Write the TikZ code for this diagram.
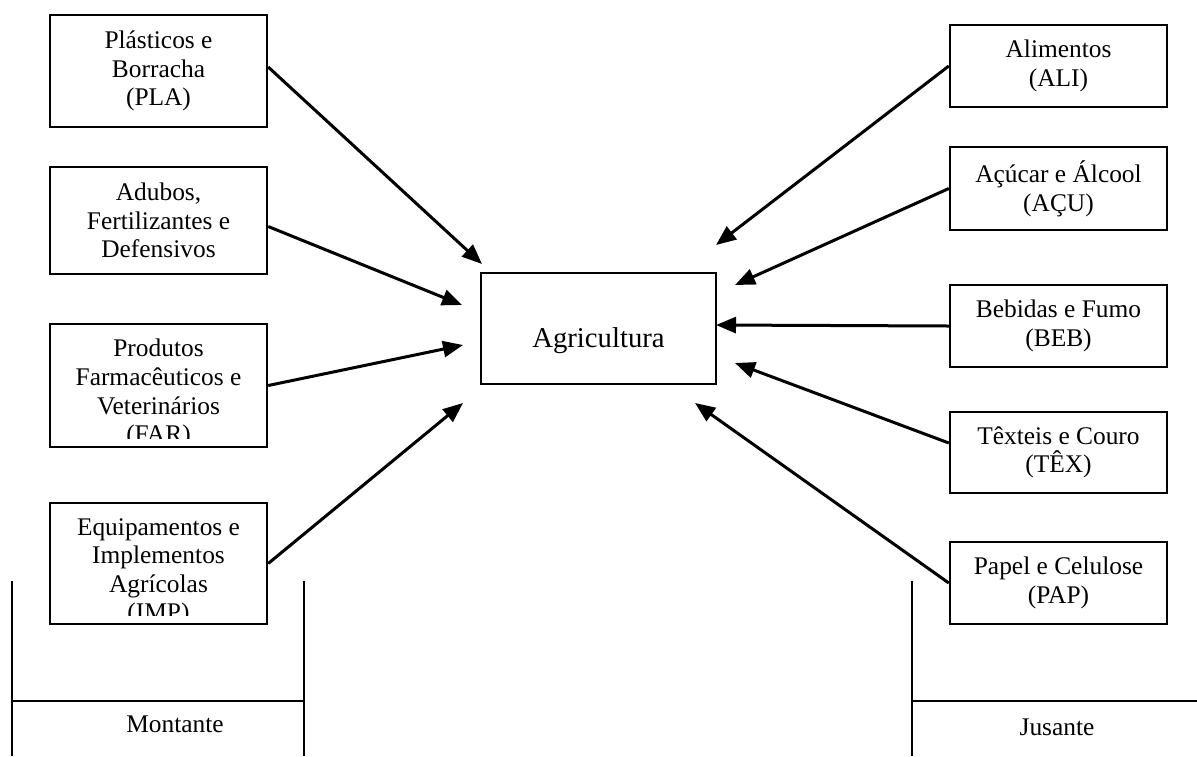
\documentclass[tikz,border=0pt]{standalone}
\usepackage{fontspec}
\setmainfont{Liberation Serif}
\usetikzlibrary{arrows.meta,positioning}

\begin{document}
\begin{tikzpicture}[
    x=0.5pt, y=-0.5pt,
    setor/.style={draw, line width=1.2pt, minimum width=108.5pt, align=center, inner sep=0pt, font=\fontsize{12.7}{14.3}\selectfont},
    texto/.style={align=center, inner sep=0pt, font=\fontsize{12.7}{14.3}\selectfont},
    arr/.style={-{Triangle[length=10pt,width=8pt]}, line width=1.5pt},
    limite/.style={line width=1pt}
]
\useasboundingbox (0,0) rectangle (1197,756);

\node[setor, minimum width=117.5pt, minimum height=55.5pt, font=\fontsize{14.35}{16}\selectfont, text height=18.5pt, text depth=0pt] (agri) at (598.5,328.5) {Agricultura};

% montante
\node[setor, minimum height=56pt] (pla) at (158.5,71) {Plásticos e\\Borracha\\(PLA)};
\node[setor, minimum height=53.5pt] (adu) at (158.5,220.5) {Adubos,\\Fertilizantes e\\Defensivos};
\node[setor, minimum height=61.5pt] (far) at (158.5,385.5) {};
\node[setor, minimum height=60.5pt] (imp) at (158.5,563.5) {};
\begin{scope}
  \clip (far.north west) rectangle ([yshift=5pt]far.south east);
  \node[texto, anchor=north] (fartxt) at ([yshift=-8pt]far.north) {Produtos\\Farmacêuticos e\\Veterinários\\(FAR)};
\end{scope}
\begin{scope}
  \clip (imp.north west) rectangle ([yshift=5pt]imp.south east);
  \node[texto, anchor=north] (imptxt) at ([yshift=-8pt]imp.north) {Equipamentos e\\Implementos\\Agrícolas\\(IMP)};
\end{scope}

% jusante
\node[setor, minimum height=41pt] (ali) at (1058.5,66) {Alimentos\\(ALI)};
\node[setor, minimum height=41.5pt] (acu) at (1058.5,188.5) {Açúcar e Álcool\\(AÇU)};
\node[setor, minimum height=41pt] (beb) at (1058.5,326) {Bebidas e Fumo\\(BEB)};
\node[setor, minimum height=40.5pt] (tex) at (1058.5,452.5) {Têxteis e Couro\\(TÊX)};
\node[setor, minimum height=41pt] (pap) at (1058.5,583) {Papel e Celulose\\(PAP)};

\coordinate (aPLA) at (482,264);
\coordinate (aADU) at (462,305);
\coordinate (aFAR) at (463,345);
\coordinate (aIMP) at (463,403);
\coordinate (aALI) at (716,245);
\coordinate (aACU) at (735,285);
\coordinate (aBEB) at (716,325);
\coordinate (aTEX) at (735,363);
\coordinate (aPAP) at (695,403);

\draw[arr] ([yshift=2pt]pla.east) -- (aPLA);
\draw[arr] ([yshift=-3pt]adu.east) -- (aADU);
\draw[arr] (far.east) -- (aFAR);
\draw[arr] (imp.east) -- (aIMP);
\draw[arr] (ali.west) -- (aALI);
\draw[arr] (acu.west) -- (aACU);
\draw[arr] (beb.west) -- (aBEB);
\draw[arr] ([yshift=4.75pt]tex.west) -- (aTEX);
\draw[arr] (pap.west) -- (aPAP);

\draw[limite] (12,581) -- (12,756) (304,581) -- (304,756) (12,701) -- (304,701);
\draw[limite] (912,581) -- (912,756) (912,701) -- (1197,701);
\node[texto] (mont) at (175,724) {Montante};
\node[texto] (jus) at (1057,727) {Jusante};
\end{tikzpicture}
\end{document}
